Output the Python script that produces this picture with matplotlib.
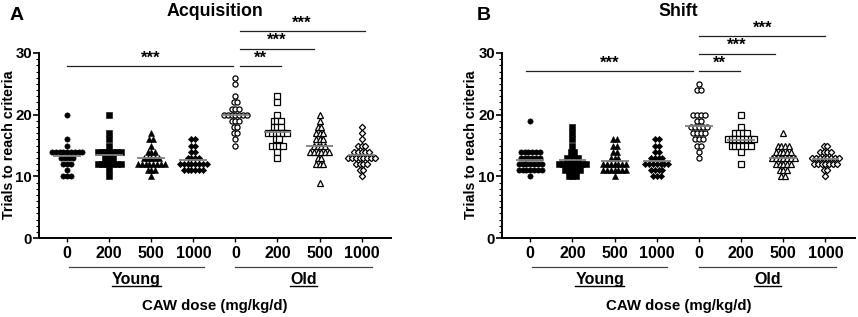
import matplotlib
matplotlib.use('Agg')
import matplotlib.pyplot as plt
from matplotlib.ticker import MultipleLocator
import numpy as np

plt.rcParams['font.family'] = ['Liberation Sans', 'DejaVu Sans']
plt.rcParams['font.weight'] = 'bold'

dose_labels = ['0', '200', '500', '1000', '0', '200', '500', '1000']

# (trials, number of animals) per group
acq_young_0 = [(20, 1), (16, 1), (15, 1), (14, 9), (13, 4), (12, 3), (11, 1), (10, 3)]
acq_young_200 = [(20, 1), (17, 1), (16, 1), (15, 1), (14, 7), (13, 3), (12, 7), (11, 1), (10, 1)]
acq_young_500 = [(17, 1), (16, 2), (15, 1), (14, 3), (13, 5), (12, 8), (11, 3), (10, 1)]
acq_young_1000 = [(16, 2), (15, 2), (14, 2), (13, 4), (12, 8), (11, 6)]
acq_old_0 = [(26, 1), (25, 1), (23, 1), (22, 2), (21, 3), (20, 7), (19, 3), (18, 2), (17, 2), (16, 1), (15, 1)]
acq_old_200 = [(23, 1), (22, 1), (20, 1), (19, 3), (18, 3), (17, 6), (16, 2), (15, 4), (14, 1), (13, 1)]
acq_old_500 = [(20, 1), (19, 1), (18, 2), (17, 3), (16, 3), (15, 4), (14, 6), (13, 2), (12, 3), (9, 1)]
acq_old_1000 = [(18, 1), (17, 1), (16, 1), (15, 3), (14, 5), (13, 8), (12, 4), (11, 2), (10, 1)]

shift_young_0 = [(19, 1), (14, 6), (13, 6), (12, 7), (11, 7), (10, 1)]
shift_young_200 = [(18, 1), (17, 1), (16, 1), (15, 1), (14, 2), (13, 4), (12, 8), (11, 5), (10, 3)]
shift_young_500 = [(16, 2), (15, 2), (14, 2), (13, 3), (12, 7), (11, 7), (10, 1)]
shift_young_1000 = [(16, 2), (15, 2), (14, 2), (13, 4), (12, 7), (11, 4), (10, 3)]
shift_old_0 = [(25, 1), (24, 2), (20, 4), (19, 2), (18, 5), (17, 4), (16, 3), (15, 2), (14, 1), (13, 1)]
shift_old_200 = [(20, 1), (18, 1), (17, 4), (16, 8), (15, 6), (14, 1), (12, 1)]
shift_old_500 = [(17, 1), (15, 4), (14, 5), (13, 7), (12, 5), (11, 3), (10, 2)]
shift_old_1000 = [(15, 2), (14, 4), (13, 8), (12, 7), (11, 2), (10, 1)]

markers = ['o', 's', '^', 'D', 'o', 's', '^', 'D']
filled = [True, True, True, True, False, False, False, False]
sizes = [3.8, 3.7, 4.0, 3.2, 3.7, 3.8, 4.0, 3.2]

# significance bars: (x start, x end, height, label)
acq_sig = [(0, 3.95, 27.9, '***'), (4.1, 5.08, 27.9, '**'), (4.1, 5.88, 30.7, '***'), (4.1, 7.07, 33.5, '***')]
shift_sig = [(-0.1, 3.87, 27.1, '***'), (4.0, 4.97, 27.1, '**'), (4.0, 5.8, 29.9, '***'), (4.0, 7.0, 32.7, '***')]


def dot_column(ax, xc, pairs, marker, full, ms):
    allv = []
    for val, n in pairs:
        offs = (np.arange(n) - (n - 1) / 2) * 0.09
        ax.plot(xc + offs, [val] * n, ls='none', marker=marker, ms=ms,
                mfc='black' if full else 'white', mec='black', mew=0.4 if full else 0.9,
                clip_on=False, zorder=3)
        allv += [val] * n
    m = np.mean(allv)
    ax.hlines(m, xc - 0.33, xc + 0.33, color='#808080', lw=1.3, zorder=5)


def panel(ax, data, sig, title, letter, letter_x, ylab_x):
    for i, pairs in enumerate(data):
        dot_column(ax, i, pairs, markers[i], filled[i], sizes[i])
    ax.set_xlim(-0.67, 7.7)
    ax.set_ylim(0, 30)
    ax.set_xticks(range(8))
    ax.set_xticklabels(dose_labels, fontsize=11.5, fontweight='bold')
    ax.set_yticks([0, 10, 20, 30])
    ax.set_yticklabels(['0', '10', '20', '30'], fontsize=10.8, fontweight='bold')
    ax.yaxis.set_minor_locator(MultipleLocator(1))
    ax.tick_params(axis='y', which='major', length=4, width=1.2, pad=1)
    ax.tick_params(axis='y', which='minor', length=2, width=0.8)
    ax.tick_params(axis='x', length=3, width=1.0, pad=3)
    for s in ['top', 'right']:
        ax.spines[s].set_visible(False)
    for s in ['left', 'bottom']:
        ax.spines[s].set_linewidth(1.4)
    fig.text(ylab_x, 1 - 145 / 317, 'Trials to reach criteria', rotation=90, ha='center',
             va='center', fontsize=10.3, fontweight='bold')
    for x0, x1, h, lab in sig:
        ax.plot([x0, x1], [h, h], color='#222222', lw=0.9, clip_on=False)
        ax.text((x0 + x1) / 2, h + 0.1, lab, ha='center', va='bottom', fontsize=12,
                fontweight='bold', clip_on=False)
    tr = ax.get_xaxis_transform()
    for (x0, x1), name in zip([(0.05, 3.25), (4.0, 7.25)], ['Young', 'Old']):
        ax.plot([x0, x1], [-0.157, -0.157], color='#444444', lw=0.9, transform=tr, clip_on=False)
        t = ax.text((x0 + x1) / 2, -0.225, name, ha='center', va='center', fontsize=11.5,
                    fontweight='bold', transform=tr)
        ax._under = getattr(ax, '_under', []) + [t]
    ax.text(0.5, -0.365, 'CAW dose (mg/kg/d)', ha='center', va='center', fontsize=10.8,
            fontweight='bold', transform=ax.transAxes)
    ax.text(0.5, 1.0 + 41 / 185, title, ha='center', va='center', fontsize=12.8,
            fontweight='bold', transform=ax.transAxes)
    fig.text(letter_x, 1 - 16 / 317, letter, ha='left', va='center', fontsize=14, fontweight='bold')


fig = plt.figure(figsize=(8.58, 3.17), dpi=100)
ax1 = fig.add_axes([39 / 858, 1 - 238 / 317, 352 / 858, 185 / 317])
ax2 = fig.add_axes([502 / 858, 1 - 238 / 317, 353 / 858, 185 / 317])

panel(ax1, [acq_young_0, acq_young_200, acq_young_500, acq_young_1000,
            acq_old_0, acq_old_200, acq_old_500, acq_old_1000],
      acq_sig, 'Acquisition', 'A', 10 / 858, 9 / 858)
panel(ax2, [shift_young_0, shift_young_200, shift_young_500, shift_young_1000,
            shift_old_0, shift_old_200, shift_old_500, shift_old_1000],
      shift_sig, 'Shift', 'B', 477 / 858, 471 / 858)

# underline Young / Old
fig.canvas.draw()
r = fig.canvas.get_renderer()
for ax in [ax1, ax2]:
    for t in ax._under:
        bb = t.get_window_extent(r)
        fig.add_artist(plt.Line2D([bb.x0 / fig.bbox.width, bb.x1 / fig.bbox.width],
                                  [(bb.y0 + 1) / fig.bbox.height] * 2,
                                  color='black', lw=1.0, transform=fig.transFigure))

fig.savefig('out.png', dpi=100)
